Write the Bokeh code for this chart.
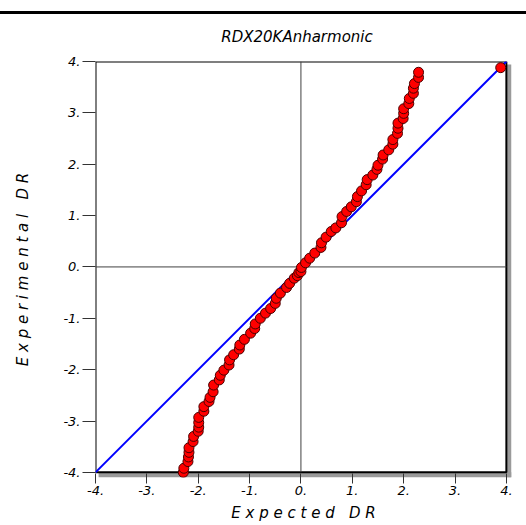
from bokeh.plotting import figure
from bokeh.models import FixedTicker, Range1d, Div
from bokeh.layouts import column
from bokeh.embed import file_html
from bokeh.resources import INLINE

# ---- data ----
expected_dr = [
    -2.29, -2.28, -2.20, -2.19, -2.18, -2.18, -2.10, -2.09, -2.00, -1.99,
    -1.99, -1.99, -1.89, -1.89, -1.79, -1.77, -1.71, -1.70, -1.59, -1.57,
    -1.50, -1.40, -1.39, -1.31, -1.20, -1.19, -1.10, -0.98, -0.90, -0.89,
    -0.79, -0.69, -0.59, -0.50, -0.48, -0.40, -0.28, -0.22, -0.13, -0.07,
    -0.04, 0.00, 0.01, 0.09, 0.17, 0.27, 0.39, 0.40, 0.49, 0.59,
    0.68, 0.79, 0.80, 0.89, 0.98, 1.08, 1.10, 1.18, 1.27, 1.29,
    1.40, 1.48, 1.50, 1.59, 1.60, 1.71, 1.79, 1.79, 1.88, 1.89,
    1.89, 1.99, 2.00, 2.00, 2.10, 2.11, 2.19, 2.19, 2.21, 2.29,
    2.29, 3.89,
]
experimental_dr = [
    -4.00, -3.92, -3.79, -3.70, -3.61, -3.52, -3.40, -3.30, -3.20, -3.12,
    -3.03, -2.93, -2.81, -2.72, -2.62, -2.54, -2.43, -2.30, -2.20, -2.11,
    -2.01, -1.91, -1.81, -1.71, -1.60, -1.52, -1.41, -1.29, -1.20, -1.11,
    -1.00, -0.90, -0.81, -0.71, -0.61, -0.51, -0.40, -0.32, -0.22, -0.17,
    -0.11, -0.09, -0.01, 0.08, 0.17, 0.27, 0.38, 0.47, 0.58, 0.69,
    0.76, 0.86, 0.98, 1.08, 1.17, 1.27, 1.37, 1.48, 1.60, 1.70,
    1.79, 1.90, 1.98, 2.10, 2.18, 2.28, 2.39, 2.48, 2.60, 2.70,
    2.80, 2.89, 2.99, 3.08, 3.18, 3.28, 3.38, 3.48, 3.57, 3.69,
    3.79, 3.88,
]
ticks = [-4, -3, -2, -1, 0, 1, 2, 3, 4]
tick_labels = ["-4.", "-3.", "-2.", "-1.", "0.", "1.", "2.", "3.", "4."]
chart_title = "RDX20KAnharmonic"
x_title = "E x p e c t e d \u00a0 D R"
y_title = "E x p e r i m e n t a l \u00a0 D R"
axis_min, axis_max = -4, 4

# ---- styling ----
shadow = 0.1
FONT = "DejaVu Sans"

p = figure(
    width=526, height=474, title=None,
    x_range=Range1d(axis_min, axis_max + shadow),
    y_range=Range1d(axis_min - shadow, axis_max),
    output_backend="svg", toolbar_location=None,
    min_border_left=95, min_border_right=15,
    min_border_top=10, min_border_bottom=48,
)
p.grid.visible = False
p.outline_line_color = None
p.background_fill_color = "white"
p.border_fill_color = "white"

# drop shadow of the plot box
p.quad(left=[axis_max], right=[axis_max + shadow],
       bottom=[axis_min - shadow], top=[axis_max - 0.06],
       fill_color="#9a9a9a", line_color=None)
p.quad(left=[axis_min + 0.06], right=[axis_max + shadow],
       bottom=[axis_min - shadow], top=[axis_min],
       fill_color="#9a9a9a", line_color=None)
# plot box
p.quad(left=[axis_min], right=[axis_max], bottom=[axis_min], top=[axis_max],
       fill_color="white", line_color="black", line_width=2)

# zero reference lines
p.segment(x0=[0, axis_min], y0=[axis_min, 0], x1=[0, axis_max], y1=[axis_max, 0],
          line_color="#404040", line_width=1)
# identity line
p.line([axis_min, axis_max], [axis_min, axis_max], line_color="#0000ff", line_width=2)

# data points
p.scatter(expected_dr, experimental_dr, size=10, fill_color="#ff0000",
          line_color="#4a0000", line_width=1)

overrides = dict(zip(ticks, tick_labels))
for ax in (p.xaxis[0], p.yaxis[0]):
    ax.ticker = FixedTicker(ticks=ticks)
    ax.major_label_overrides = overrides
    ax.axis_line_color = None
    ax.minor_tick_line_color = None
    ax.major_tick_line_color = "#333333"
    ax.major_tick_line_width = 1
    ax.major_label_text_font = FONT
    ax.major_label_text_font_style = "italic"
    ax.major_label_text_font_size = "13px"
    ax.major_label_text_color = "black"
    ax.axis_label_text_font = FONT
    ax.axis_label_text_font_style = "italic"
    ax.axis_label_text_font_size = "15px"
    ax.axis_label_text_color = "black"

p.xaxis.major_tick_in = 4
p.xaxis.major_tick_out = 6
p.xaxis.major_label_standoff = 2
p.xaxis.axis_label = x_title
p.xaxis.axis_label_standoff = 6

p.yaxis.major_tick_in = 0
p.yaxis.major_tick_out = 13
p.yaxis.major_label_standoff = 2
p.yaxis.axis_label = y_title
p.yaxis.axis_label_standoff = 28

header = Div(
    text=(
        '<div style="position:relative;width:526px;height:51px;">'
        '<div style="position:absolute;left:0;top:11px;width:526px;height:3px;background:#000;"></div>'
        '<div style="position:absolute;left:68px;top:28px;width:458px;text-align:center;'
        "font-family:'DejaVu Sans';font-style:italic;font-size:15px;line-height:18px;"
        f'color:#000;white-space:nowrap;">{chart_title}</div>'
        '</div>'
    ),
    width=526, height=51, margin=0,
)
layout = column(header, p, spacing=0)

open("out.html", "w").write(file_html(layout, INLINE))
